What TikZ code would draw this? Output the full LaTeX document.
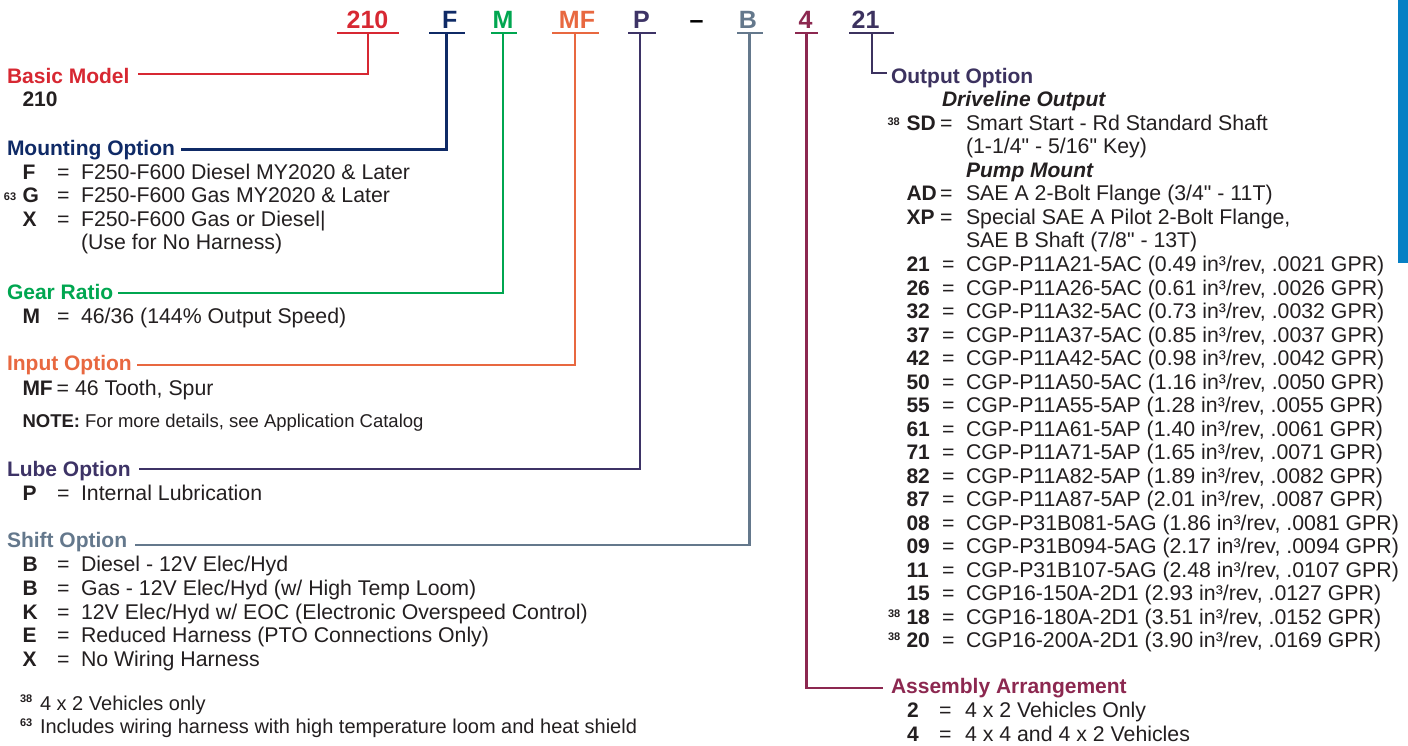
\documentclass[tikz,border=0pt]{standalone}
\usepackage{fontspec}
\setmainfont{Liberation Sans}[Ligatures=TeXOff]
\newcommand{\inq}{\char34\relax}
\definecolor{cRed}{HTML}{D72832}
\definecolor{cNavy}{HTML}{0F2A66}
\definecolor{cGreen}{HTML}{00A650}
\definecolor{cOrange}{HTML}{E86840}
\definecolor{cPurple}{HTML}{3D3366}
\definecolor{cSlate}{HTML}{64788C}
\definecolor{cMaroon}{HTML}{8C2850}
\definecolor{cDark}{HTML}{3C325F}
\definecolor{cBlue}{HTML}{0780C4}
\definecolor{cInk}{HTML}{231F20}
\begin{document}
\begin{tikzpicture}[x=1pt,y=-1pt,
  txt/.style={anchor=base west, inner sep=0pt, outer sep=0pt, text=cInk, font=\fontsize{21.3}{23}\selectfont},
  hd/.style={txt, font=\bfseries\fontsize{21}{23}\selectfont},
  key/.style={txt, font=\bfseries\fontsize{21}{23}\selectfont},
  bi/.style={txt, font=\bfseries\itshape\fontsize{21}{23}\selectfont},
  foot/.style={txt, font=\fontsize{20}{22}\selectfont},
  note/.style={txt, font=\fontsize{18.5}{20}\selectfont},
  supnum/.style={txt, font=\bfseries\fontsize{11}{12}\selectfont},
  codetxt/.style={anchor=base, inner sep=0pt, outer sep=0pt, font=\bfseries\fontsize{25}{26}\selectfont},
  conn/.style={line width=2.6pt},
]
\useasboundingbox (0,0) rectangle (1408,745);
% blue side bar
\fill[cBlue] (1398,0) rectangle (1408,263);

% ---- top code row ----
\node[codetxt,text=cRed] (c210) at (367.5,28.3) {210};
\node[codetxt,text=cNavy] (cF) at (449.7,28.3) {F};
\node[codetxt,text=cGreen] (cM) at (503,28.3) {M};
\node[codetxt,text=cOrange] (cMF) at (577,28.3) {MF};
\node[codetxt,text=cPurple] (cP) at (641.5,28.3) {P};
\node[codetxt,text=black] (cdash) at (696.5,28.3) {–};
\node[codetxt,text=cSlate] (cB) at (748,28.3) {B};
\node[codetxt,text=cMaroon] (c4) at (805.5,28.3) {4};
\node[codetxt,text=cDark] (c21) at (865.5,28.3) {21};

\coordinate (u210L) at (337,33);   \coordinate (u210R) at (399,33);   \coordinate (u210) at (368,33);
\coordinate (uFL) at (429,33);     \coordinate (uFR) at (465,33);     \coordinate (uF) at (446.5,33);
\coordinate (uML) at (491,33);     \coordinate (uMR) at (517,33);     \coordinate (uM) at (503,33);
\coordinate (uMFL) at (552,33);    \coordinate (uMFR) at (599,33);    \coordinate (uMF) at (575,33);
\coordinate (uPL) at (628,33);     \coordinate (uPR) at (656,33);     \coordinate (uP) at (640,33);
\coordinate (uBL) at (737,33);     \coordinate (uBR) at (763,33);     \coordinate (uB) at (749.5,33);
\coordinate (u4L) at (795,33);     \coordinate (u4R) at (818,33);     \coordinate (u4) at (806.5,33);
\coordinate (u21L) at (849,33);    \coordinate (u21R) at (894,33);    \coordinate (u21) at (871.5,33);

\draw[conn,cRed] (u210L) -- (u210R);
\draw[conn,cNavy] (uFL) -- (uFR);
\draw[conn,cGreen] (uML) -- (uMR);
\draw[conn,cOrange] (uMFL) -- (uMFR);
\draw[conn,cPurple] (uPL) -- (uPR);
\draw[conn,cSlate] (uBL) -- (uBR);
\draw[conn,cMaroon] (u4L) -- (u4R);
\draw[conn,cDark] (u21L) -- (u21R);

% ---- left column ----
\node[hd,text=cRed] (basic) at (7,83.3) {Basic Model};
\node[key] (k210) at (22.5,106.7) {210};

\node[hd,text=cNavy] (mount) at (7,155.7) {Mounting Option};
\node[key] (kF) at (22.5,179) {F};
\node[txt] (eF) at (57,179) {=};
\node[txt] (tF) at (81,179) {F250-F600 Diesel MY2020 \& Later};
\node[supnum] (sG) at (4,200) {63};
\node[key] (kG) at (22.5,202.5) {G};
\node[txt] (eG) at (57,202.5) {=};
\node[txt] (tG) at (81,202.5) {F250-F600 Gas MY2020 \& Later};
\node[key] (kX) at (22.5,226) {X};
\node[txt] (eX) at (57,226) {=};
\node[txt] (tX) at (81,226) {F250-F600 Gas or Diesel|};
\node[txt] (tX2) at (81,249.5) {(Use for No Harness)};

\node[hd,text=cGreen] (gear) at (7,299.3) {Gear Ratio};
\node[key] (kM) at (22.5,323.3) {M};
\node[txt] (eM) at (57,323.3) {=};
\node[txt] (tM) at (81,323.3) {46/36 (144\% Output Speed)};

\node[hd,text=cOrange] (input) at (7,370.7) {Input Option};
\node[key] (kMF) at (22.5,395) {MF};
\node[txt] (eMF) at (56.5,395) {=};
\node[txt] (tMF) at (75,395) {46 Tooth, Spur};
\node[note] (nt) at (22.5,427.7) {\textbf{NOTE:} For more details, see Application Catalog};

\node[hd,text=cPurple] (lube) at (7,476.7) {Lube Option};
\node[key] (kP) at (22.5,500) {P};
\node[txt] (eP) at (57,500) {=};
\node[txt] (tP) at (81,500) {Internal Lubrication};

\node[hd,text=cSlate] (shift) at (7,547.7) {Shift Option};
\node[key] (kB1) at (22.5,571.7) {B};
\node[txt] (eB1) at (57,571.7) {=};
\node[txt] (tB1) at (81,571.7) {Diesel - 12V Elec/Hyd};
\node[key] (kB2) at (22.5,595.4) {B};
\node[txt] (eB2) at (57,595.4) {=};
\node[txt] (tB2) at (81,595.4) {Gas - 12V Elec/Hyd (w/ High Temp Loom)};
\node[key] (kK) at (22.5,619.1) {K};
\node[txt] (eK) at (57,619.1) {=};
\node[txt] (tK) at (81,619.1) {12V Elec/Hyd w/ EOC (Electronic Overspeed Control)};
\node[key] (kE) at (22.5,642.8) {E};
\node[txt] (eE) at (57,642.8) {=};
\node[txt] (tE) at (81,642.8) {Reduced Harness (PTO Connections Only)};
\node[key] (kX2) at (22.5,666.5) {X};
\node[txt] (eX2) at (57,666.5) {=};
\node[txt] (tX3) at (81,666.5) {No Wiring Harness};

\node[supnum] (f38s) at (20,702.7) {38};
\node[foot] (f38) at (40,710.7) {4 x 2 Vehicles only};
\node[supnum] (f63s) at (20,726.7) {63};
\node[foot] (f63) at (40,733.3) {Includes wiring harness with high temperature loom and heat shield};

% ---- right column ----
\node[hd,text=cDark] (output) at (891,83.3) {Output Option};
\node[bi] (drive) at (942,106.8) {Driveline Output};
\node[supnum] (sSD) at (887.5,125) {38};
\node[key] (kSD) at (906.5,130.3) {SD};
\node[txt] (eSD) at (940,130.3) {=};
\node[txt] (tSD) at (966,130.3) {Smart Start - Rd Standard Shaft};
\node[txt] (tSD2) at (966,153.8) {(1-1/4\inq{} - 5/16\inq{} Key)};
\node[bi] (pump) at (966,177.3) {Pump Mount};
\node[key] (kAD) at (906.5,200.8) {AD};
\node[txt] (eAD) at (940,200.8) {=};
\node[txt] (tAD) at (966,200.8) {SAE A 2-Bolt Flange (3/4\inq{} - 11T)};
\node[key] (kXP) at (906.5,224.3) {XP};
\node[txt] (eXP) at (940,224.3) {=};
\node[txt] (tXP) at (966,224.3) {Special SAE A Pilot 2-Bolt Flange,};
\node[txt] (tXP2) at (966,247.8) {SAE B Shaft (7/8\inq{} - 13T)};

\newcommand{\orow}[3]{%
  \node[key] (k#1) at (906.5,#2) {#1};
  \node[txt] (e#1) at (942,#2) {=};
  \node[txt] (t#1) at (966,#2) {#3};}
\orow{21}{271.5}{CGP-P11A21-5AC (0.49 in³/rev, .0021 GPR)}
\orow{26}{295.0}{CGP-P11A26-5AC (0.61 in³/rev, .0026 GPR)}
\orow{32}{318.5}{CGP-P11A32-5AC (0.73 in³/rev, .0032 GPR)}
\orow{37}{342.0}{CGP-P11A37-5AC (0.85 in³/rev, .0037 GPR)}
\orow{42}{365.5}{CGP-P11A42-5AC (0.98 in³/rev, .0042 GPR)}
\orow{50}{389.0}{CGP-P11A50-5AC (1.16 in³/rev, .0050 GPR)}
\orow{55}{412.5}{CGP-P11A55-5AP (1.28 in³/rev, .0055 GPR)}
\orow{61}{436.0}{CGP-P11A61-5AP (1.40 in³/rev, .0061 GPR)}
\orow{71}{459.5}{CGP-P11A71-5AP (1.65 in³/rev, .0071 GPR)}
\orow{82}{483.0}{CGP-P11A82-5AP (1.89 in³/rev, .0082 GPR)}
\orow{87}{506.5}{CGP-P11A87-5AP (2.01 in³/rev, .0087 GPR)}
\orow{08}{530.0}{CGP-P31B081-5AG (1.86 in³/rev, .0081 GPR)}
\orow{09}{553.5}{CGP-P31B094-5AG (2.17 in³/rev, .0094 GPR)}
\orow{11}{577.0}{CGP-P31B107-5AG (2.48 in³/rev, .0107 GPR)}
\orow{15}{600.5}{CGP16-150A-2D1 (2.93 in³/rev, .0127 GPR)}
\orow{18}{624.0}{CGP16-180A-2D1 (3.51 in³/rev, .0152 GPR)}
\orow{20}{647.5}{CGP16-200A-2D1 (3.90 in³/rev, .0169 GPR)}
\node[supnum] (s18) at (888,617.3) {38};
\node[supnum] (s20) at (888,640.8) {38};

\node[hd,text=cMaroon] (assy) at (891,693.5) {Assembly Arrangement};
\node[key] (kA2) at (907,717.3) {2};
\node[txt] (eA2) at (939,717.3) {=};
\node[txt] (tA2) at (965,717.3) {4 x 2 Vehicles Only};
\node[key] (kA4) at (907,741) {4};
\node[txt] (eA4) at (939,741) {=};
\node[txt] (tA4) at (965,741) {4 x 4 and 4 x 2 Vehicles};

% ---- connectors ----
\draw[conn,cRed] (u210) |- ([xshift=8pt,yshift=9.3pt]basic.base east);
\draw[conn,cNavy] (uF) |- ([xshift=6pt,yshift=6.4pt]mount.base east);
\draw[conn,cGreen] (uM) |- ([xshift=4.5pt,yshift=6.3pt]gear.base east);
\draw[conn,cOrange] (uMF) |- ([xshift=5pt,yshift=5.7pt]input.base east);
\draw[conn,cPurple] (uP) |- ([xshift=8pt,yshift=7.7pt]lube.base east);
\draw[conn,cSlate] (uB) |- ([xshift=8pt,yshift=2.7pt]shift.base east);
\draw[conn,cMaroon] (u4) |- ([xshift=-8pt,yshift=5.5pt]assy.base west);
\draw[line width=2pt,cDark] (u21) |- ([xshift=-4pt,yshift=10.3pt]output.base west);
\end{tikzpicture}
\end{document}
